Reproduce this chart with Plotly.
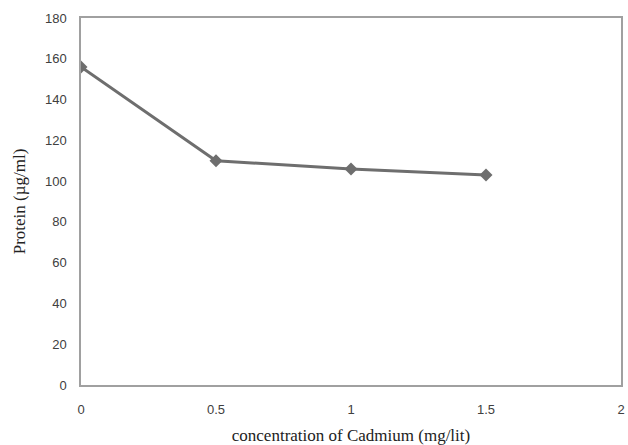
import plotly.graph_objects as go

concentration = [0, 0.5, 1, 1.5]
protein = [156, 110, 106, 103]
x_ticks = [0, 0.5, 1, 1.5, 2]
y_ticks = [0, 20, 40, 60, 80, 100, 120, 140, 160, 180]

fig = go.Figure()
fig.add_trace(go.Scatter(
    x=concentration, y=protein, mode="lines+markers",
    line=dict(color="#6e6e6e", width=3),
    marker=dict(symbol="diamond", size=10, color="#6e6e6e"),
    showlegend=False,
))

fig.update_layout(
    width=628, height=445,
    margin=dict(l=81, r=7, t=18, b=60),
    paper_bgcolor="white", plot_bgcolor="white",
    font=dict(family="Liberation Sans, Arial", size=13, color="#404040"),
)
fig.update_xaxes(
    range=[0, 2], tickvals=x_ticks, ticktext=[str(v) for v in x_ticks],
    showgrid=False, zeroline=False, showline=True, linecolor="#a0a0a0", linewidth=1.5,
    mirror=True, ticks="", ticklabelstandoff=12, automargin=False,
    ticklabeloverflow="allow",
    title=dict(text="concentration of Cadmium (mg/lit)",
               font=dict(family="Liberation Serif, Times New Roman", size=17, color="#222222"),
               standoff=22),
)
fig.update_yaxes(
    range=[0, 180], tickvals=y_ticks,
    showgrid=False, zeroline=False, showline=True, linecolor="#a0a0a0", linewidth=1.5,
    mirror=True, ticks="", ticklabelstandoff=10, automargin=False,
    title=dict(text="Protein (µg/ml)",
               font=dict(family="Liberation Serif, Times New Roman", size=17, color="#222222"),
               standoff=15),
)

fig.write_html(
    "out.html",
    config={"displayModeBar": False},
    post_script="document.body.style.margin='0';document.body.style.overflow='hidden';",
)
